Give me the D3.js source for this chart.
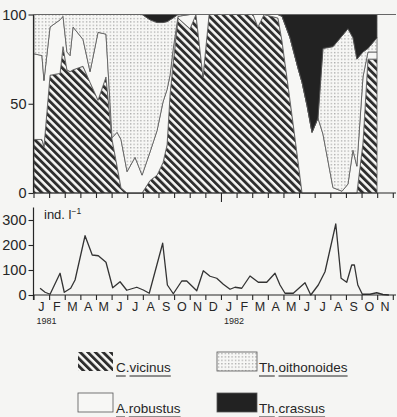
<!DOCTYPE html>
<html>
<head>
<meta charset="utf-8">
<script src="https://cdn.jsdelivr.net/npm/d3@7"></script>
<style>
  body { margin: 0; background: #f5f5f3; }
  svg { display: block; font-family: "Liberation Sans", Arial, sans-serif; }
</style>
</head>
<body>
<div id="chart"></div>
<script>
// sampling dates in months since 1 Jan 1981
var compMonths = [0.03, 0.54, 0.67, 1.06, 1.70, 1.89, 2.14, 2.34, 2.53, 3.17, 3.62, 4.13, 4.64, 5.03, 5.35, 5.60, 5.99, 6.50, 6.95, 7.46,
    7.91, 8.29, 8.55, 8.74, 8.93, 9.25, 10.02, 10.40, 10.85, 11.24, 14.05, 14.37, 14.76, 15.65, 15.91, 16.42, 16.93, 17.19, 17.51, 17.83,
    18.21, 18.53, 19.17, 19.75, 20.13, 20.45, 20.70, 21.09, 21.41, 21.99];
// percentage of each species
var cVicinus = [30, 30, 26, 66, 67, 82, 69, 68, 69, 71, 62, 52, 65, 30, 15, 3, 0, 0, 0, 7,
    10, 17, 27, 55, 72, 98, 92, 100, 65, 100, 100, 93, 100, 98, 85, 52, 18, 0, 0, 0,
    0, 0, 0, 0, 0, 0, 0, 28, 75, 75];
var aRobustus = [48, 47, 37, 27, 30, 17, 10, 9, 24, 15, 6, 38, 24, 1, 19, 27, 12, 20, 10, 16,
    25, 34, 31, 11, 8, 1, 8, 0, 35, 0, 0, 7, 0, 2, 14, 35, 52, 62, 49, 34,
    42, 33, 3, 1, 5, 24, 15, 37, 4, 4];
var thOithonoides = [22, 23, 37, 7, 3, 1, 21, 23, 7, 14, 32, 10, 11, 69, 66, 70, 88, 80, 90, 74,
    60.5, 44.5, 38, 31, 18, 1, 0, 0, 0, 0, 0, 0, 0, 0, 0, 0, 0, 0, 0, 0,
    0, 48, 79, 87, 87, 63, 60, 14, 2, 8];
var thCrassus = [0, 0, 0, 0, 0, 0, 0, 0, 0, 0, 0, 0, 0, 0, 0, 0, 0, 0, 0, 3,
    4.5, 4.5, 4, 3, 2, 0, 0, 0, 0, 0, 0, 0, 0, 0, 1, 13, 30, 38, 51, 66,
    58, 19, 18, 12, 8, 13, 25, 21, 19, 13];

// total density, ind. l-1
var totalMonths = [0.42, 0.74, 1.06, 1.70, 1.97, 2.38, 2.66, 3.30, 3.76, 4.15, 4.64, 5.07, 5.54, 5.97, 6.61, 7.03, 7.41, 8.27, 8.57, 8.95,
    9.49, 9.81, 10.45, 10.87, 11.30, 11.73, 12.15, 12.58, 12.90, 13.33, 13.86, 14.39, 14.93, 15.46, 15.78, 16.10, 16.63, 17.38, 17.75, 18.23,
    18.66, 19.35, 19.69, 20.05, 20.37, 20.54, 20.76, 21.05, 21.54, 21.97, 22.37, 22.75];
var totalDensity = [27, 11, 3, 87, 11, 27, 60, 237, 160, 157, 131, 29, 53, 19, 31, 20, 7, 207, 40, 5,
    56, 56, 17, 97, 75, 67, 43, 23, 31, 27, 76, 51, 51, 87, 40, 7, 7, 49, 0, 40,
    93, 284, 67, 51, 120, 120, 40, 3, 3, 9, 2, 0];

var monthLabels = ["J","F","M","A","M","J","J","A","S","O","N","D","J","F","M","A","M","J","J","A","S","O","N"];
var yearLabels = ["1981", "1982"];
var pctTicks = [0, 50, 100];
var densTicks = [0, 100, 200, 300];
var speciesKeys = ["cvic", "arob", "thoi", "thcr"];
var speciesNames = [["C", "vicinus"], ["A", "robustus"], ["Th", "oithonoides"], ["Th", "crassus"]];

var ink = "#262626";
var paper = "#f7f7f5";

var svg = d3.select("#chart").append("svg")
    .attr("width", 397)
    .attr("height", 417);

var defs = svg.append("defs");
var hatch = defs.append("pattern")
    .attr("id", "hatch")
    .attr("patternUnits", "userSpaceOnUse")
    .attr("width", 5.4).attr("height", 5.4)
    .attr("patternTransform", "rotate(-45)");
hatch.append("rect").attr("width", 5.4).attr("height", 5.4).attr("fill", paper);
hatch.append("line").attr("x1", 1.4).attr("x2", 1.4).attr("y1", 0).attr("y2", 5.4)
    .attr("stroke", "#2e2e2e").attr("stroke-width", 2.9);

var dots = defs.append("pattern")
    .attr("id", "dots")
    .attr("patternUnits", "userSpaceOnUse")
    .attr("width", 3.4).attr("height", 3.4);
dots.append("rect").attr("width", 3.4).attr("height", 3.4).attr("fill", paper);
dots.append("rect").attr("x", 1).attr("y", 1).attr("width", 1.1).attr("height", 1.1).attr("fill", "#8a8a8a");

var fills = { cvic: "url(#hatch)", arob: paper, thoi: "url(#dots)", thcr: "#222" };

var x = d3.scaleLinear().domain([0, 23]).range([33.5, 392.8]);
var yPct = d3.scaleLinear().domain([0, 100]).range([193, 14.5]);
var yDen = d3.scaleLinear().domain([0, 350]).range([295, 207.5]);

// ---- composition panel
var table = compMonths.map(function (m, i) {
    return { m: m, cvic: cVicinus[i], arob: aRobustus[i], thoi: thOithonoides[i], thcr: thCrassus[i] };
});
var series = d3.stack().keys(speciesKeys)(table);

var area = d3.area()
    .x(function (d) { return x(d.data.m); })
    .y0(function (d) { return yPct(d[0]); })
    .y1(function (d) { return yPct(d[1]); });

svg.append("g")
    .selectAll("path")
    .data(series)
    .join("path")
    .attr("d", area)
    .attr("fill", function (d) { return fills[d.key]; })
    .attr("stroke", "#555")
    .attr("stroke-width", 0.8)
    .attr("stroke-linejoin", "round");

var pctAxis = svg.append("g")
    .attr("transform", "translate(" + x(0) + ",0)")
    .call(d3.axisLeft(yPct).tickValues(pctTicks).tickSize(5).tickPadding(2));
pctAxis.select(".domain").remove();

svg.append("line").attr("x1", x(0)).attr("x2", x(0)).attr("y1", yPct(100)).attr("y2", yPct(0))
    .attr("stroke", ink).attr("stroke-width", 1.2);
svg.append("line").attr("x1", x(0)).attr("x2", 396).attr("y1", yPct(100)).attr("y2", yPct(100))
    .attr("stroke", "#666").attr("stroke-width", 1.2);
svg.append("line").attr("x1", x(0)).attr("x2", 396).attr("y1", yPct(0)).attr("y2", yPct(0))
    .attr("stroke", ink).attr("stroke-width", 1.2);

svg.append("g")
    .attr("transform", "translate(0," + yPct(0) + ")")
    .call(d3.axisBottom(x).tickValues(d3.range(24)).tickFormat("")
        .tickSizeInner(5).tickSizeOuter(0))
    .call(function (g) {
        g.select(".domain").remove();
        g.selectAll(".tick line").filter(function (d) { return d === 12; }).attr("y2", 9);
    });

// ---- density panel
var line = d3.line()
    .x(function (d, i) { return x(totalMonths[i]); })
    .y(function (d) { return yDen(d); });

svg.append("path")
    .datum(totalDensity)
    .attr("d", line)
    .attr("fill", "none")
    .attr("stroke", "#333")
    .attr("stroke-width", 1.3)
    .attr("stroke-linejoin", "round");

var denAxis = svg.append("g")
    .attr("transform", "translate(" + x(0) + ",0)")
    .call(d3.axisLeft(yDen).tickValues(densTicks).tickSize(5).tickPadding(2));
denAxis.select(".domain").remove();
svg.append("line").attr("x1", x(0)).attr("x2", x(0)).attr("y1", yDen(350)).attr("y2", yDen(0) + 5)
    .attr("stroke", ink).attr("stroke-width", 1.2);
svg.append("line").attr("x1", x(0)).attr("x2", 396).attr("y1", yDen(0)).attr("y2", yDen(0))
    .attr("stroke", ink).attr("stroke-width", 1.2);

svg.append("g")
    .attr("transform", "translate(0," + yDen(0) + ")")
    .call(d3.axisBottom(x).tickValues(d3.range(24)).tickFormat("")
        .tickSizeInner(5).tickSizeOuter(0))
    .call(function (g) { g.select(".domain").remove(); });

svg.selectAll(".tick line").attr("stroke", ink).attr("stroke-width", 1.1);
svg.selectAll(".tick text")
    .attr("fill", ink)
    .style("font-size", "14.5px")
    .style("font-family", "'Liberation Sans', Arial, sans-serif");

svg.append("g")
    .selectAll("text")
    .data(monthLabels)
    .join("text")
    .attr("x", function (d, i) { return x(i + 0.5); })
    .attr("y", 311)
    .attr("text-anchor", "middle")
    .attr("fill", ink)
    .style("font-size", "12.5px")
    .text(function (d) { return d; });

svg.append("g")
    .selectAll("text")
    .data(yearLabels)
    .join("text")
    .attr("x", function (d, i) { return x(i * 12) + 3; })
    .attr("y", 324)
    .attr("fill", ink)
    .style("font-size", "9px")
    .text(function (d) { return d; });

var unit = svg.append("text")
    .attr("x", 44).attr("y", 219)
    .attr("fill", ink)
    .style("font-size", "13px");
unit.append("tspan").text("ind. l");
unit.append("tspan").attr("dy", -5).style("font-size", "8.5px").text("−1");

// ---- legend
var legendPos = [[78, 352], [78, 393], [217, 352], [217, 393]];
var legend = svg.append("g")
    .selectAll("g")
    .data(speciesKeys)
    .join("g")
    .attr("transform", function (d, i) { return "translate(" + legendPos[i][0] + "," + legendPos[i][1] + ")"; });

legend.append("rect")
    .attr("width", function (d, i) { return i < 2 ? 35 : 40; })
    .attr("height", 19)
    .attr("fill", function (d) { return fills[d]; })
    .attr("stroke", function (d) { return d === "cvic" ? "none" : "#555"; })
    .attr("stroke-width", 0.8);

legend.each(function (d, i) {
    var g = d3.select(this);
    var tx = i < 2 ? 38 : 42;
    var t = g.append("text")
        .attr("x", tx).attr("y", 20)
        .attr("fill", ink)
        .style("font-size", "13.5px")
        .text(speciesNames[i][0] + "." + speciesNames[i][1]);
    var node = t.node();
    var n0 = speciesNames[i][0].length;
    var w0 = node.getSubStringLength(0, n0);
    var wDot = node.getSubStringLength(n0, 1);
    var w1 = node.getSubStringLength(n0 + 1, speciesNames[i][1].length);
    g.append("line").attr("x1", tx).attr("x2", tx + w0).attr("y1", 24).attr("y2", 24)
        .attr("stroke", ink).attr("stroke-width", 1);
    g.append("line").attr("x1", tx + w0 + wDot).attr("x2", tx + w0 + wDot + w1).attr("y1", 24).attr("y2", 24)
        .attr("stroke", ink).attr("stroke-width", 1);
});
</script>
</body>
</html>
